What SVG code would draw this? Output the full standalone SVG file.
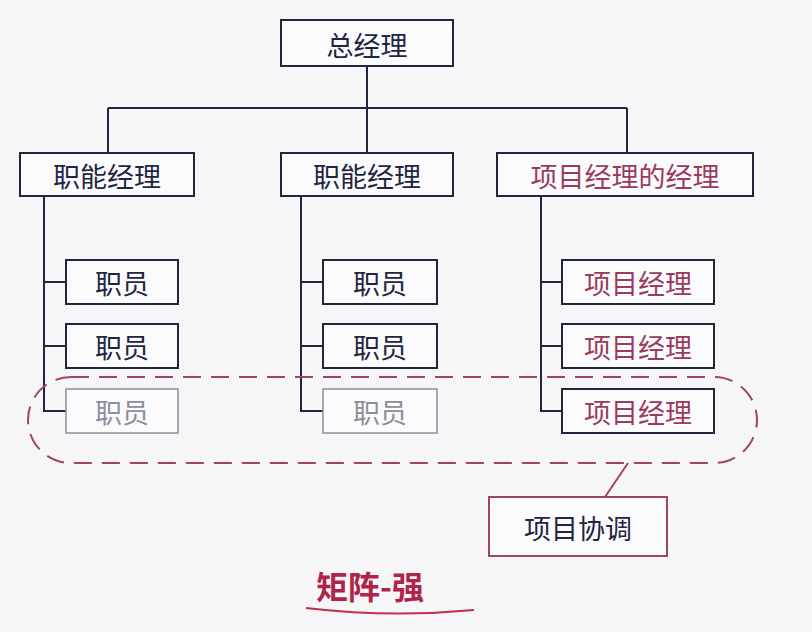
<svg xmlns="http://www.w3.org/2000/svg" width="812" height="632" viewBox="0 0 812 632">
<style>
.b{fill:#fbfbfd;stroke:#1e2640;stroke-width:2}
.g{fill:#fbfbfd;stroke:#8a8f9c;stroke-width:1.5}
.t{font-family:"Noto Sans CJK SC",sans-serif;font-size:27px;text-anchor:middle;dominant-baseline:central;fill:#1e2640}
.tg{fill:#8a8f9c}
.tp{fill:#9a3a5e}
.l{stroke:#1e2640;stroke-width:2;fill:none}
</style>
<rect width="812" height="632" fill="#f6f6f9"/>
<g id="connectors">
<path class="l" d="M367 66V108M108 108H627M108 108V153M367 108V153M627 108V153"/>
<path class="l" d="M44 196V411H66M44 282H66M44 346H66"/>
<path class="l" d="M301 196V411H323M301 282H323M301 346H323"/>
<path class="l" d="M541 196V411H562M541 282H562M541 346H562"/>
<path d="M628 463L605 497" stroke="#a04460" stroke-width="2" fill="none"/>
</g>
<g id="n0"><rect class="b" x="281" y="20" width="172" height="46"/><text class="t" x="367" y="44">总经理</text></g>
<g id="f1"><rect class="b" x="20" y="153" width="174" height="43"/><text class="t" x="107" y="175">职能经理</text></g>
<g id="f2"><rect class="b" x="281" y="153" width="172" height="43"/><text class="t" x="367" y="175">职能经理</text></g>
<g id="f3"><rect class="b" x="497" y="153" width="256" height="43"/><text class="t tp" x="625" y="175">项目经理的经理</text></g>
<g id="e11"><rect class="b" x="66" y="260" width="112" height="44"/><text class="t" x="122" y="282">职员</text></g>
<g id="e12"><rect class="b" x="66" y="324" width="112" height="44"/><text class="t" x="122" y="346">职员</text></g>
<g id="e13"><rect class="g" x="66" y="389" width="112" height="44"/><text class="t tg" x="122" y="411">职员</text></g>
<g id="e21"><rect class="b" x="323" y="260" width="114" height="44"/><text class="t" x="380" y="282">职员</text></g>
<g id="e22"><rect class="b" x="323" y="324" width="114" height="44"/><text class="t" x="380" y="346">职员</text></g>
<g id="e23"><rect class="g" x="323" y="389" width="114" height="44"/><text class="t tg" x="380" y="411">职员</text></g>
<g id="p1"><rect class="b" x="562" y="260" width="152" height="44"/><text class="t tp" x="638" y="282">项目经理</text></g>
<g id="p2"><rect class="b" x="562" y="324" width="152" height="44"/><text class="t tp" x="638" y="346">项目经理</text></g>
<g id="p3"><rect class="b" x="562" y="389" width="152" height="44"/><text class="t tp" x="638" y="411">项目经理</text></g>
<g id="dash"><rect x="28" y="377" width="729" height="86" rx="43" fill="none" stroke="#a04460" stroke-width="2" stroke-dasharray="18 10"/></g>
<g id="coord"><rect x="489" y="497" width="178" height="59" fill="#fbfbfd" stroke="#a04460" stroke-width="2"/><text class="t" x="578" y="527">项目协调</text></g>
<g id="title"><text x="370" y="585" font-family="Noto Sans CJK SC,sans-serif" font-size="32" font-weight="bold" text-anchor="middle" dominant-baseline="central" fill="#b0244a">矩阵-强</text>
<path d="M306 608Q390 618 474 610" stroke="#c0304a" stroke-width="2" fill="none"/></g>
</svg>
